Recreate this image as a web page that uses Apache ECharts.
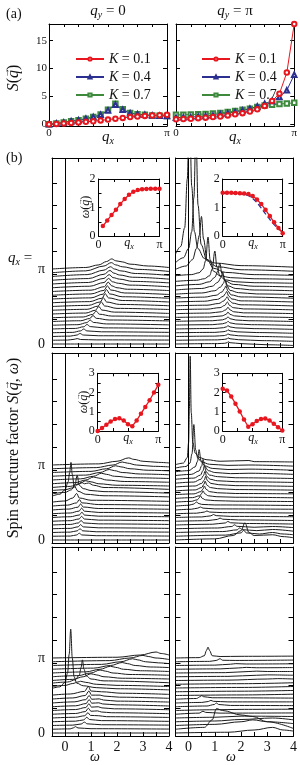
<!DOCTYPE html>
<html><head><meta charset="utf-8">
<script src="https://cdn.jsdelivr.net/npm/echarts@6/dist/echarts.min.js"></script>
<style>html,body{margin:0;padding:0;background:#fff}#c{width:300px;height:765px}</style>
</head><body><div id="c"></div>
<script>
const FONTF = '"Liberation Serif","DejaVu Serif",serif';
// ---------- (a) static structure factor, x in units of pi ----------
const qA = [0,0.0625,0.125,0.1875,0.25,0.3125,0.375,0.4375,0.5,0.5625,0.625,0.6875,0.75,0.8125,0.875,0.9375,1];
const sQy0_K1 = [0,0.08,0.16,0.25,0.35,0.45,0.55,0.7,0.85,1.0,1.15,1.3,1.4,1.5,1.6,1.65,1.7];
const sQy0_K4 = [0,0.15,0.35,0.55,0.75,1.0,1.3,1.7,2.5,3.5,2.6,2.0,1.8,1.7,1.6,1.55,1.5];
const sQy0_K7 = [0,0.15,0.35,0.55,0.75,1.0,1.3,1.75,2.6,3.7,2.7,2.05,1.8,1.7,1.6,1.55,1.5];
const sQyP_K1 = [0.9,0.95,1.0,1.1,1.2,1.3,1.4,1.6,1.8,2.0,2.3,2.7,3.3,4.2,5.5,9.3,18];
const sQyP_K4 = [1.2,1.25,1.3,1.4,1.5,1.6,1.8,2.0,2.2,2.5,2.8,3.2,3.7,4.2,4.9,6.1,8.9];
const sQyP_K7 = [1.7,1.72,1.75,1.8,1.85,1.95,2.05,2.2,2.4,2.6,2.8,3.1,3.4,3.5,3.65,3.75,3.85];
const kNames = ['K = 0.1','K = 0.4','K = 0.7'];
// ---------- insets: dispersion omega(q), q in units of pi ----------
const qIn = [0,0.0714,0.143,0.214,0.286,0.357,0.429,0.5,0.571,0.643,0.714,0.786,0.857,0.929,1];
const w1L = [null,0.35,0.54,0.74,0.92,1.12,1.3,1.45,1.55,1.61,1.64,1.65,1.66,1.66,1.66];
const w1R = [1.52,1.52,1.52,1.51,1.5,1.49,1.47,1.4,1.28,1.12,0.92,0.7,0.48,0.28,0.1];
const w1Rb = [1.5,1.5,1.5,1.49,1.48,1.46,1.42,1.32,1.17,0.98,0.78,0.58,0.4,0.25,0.14];
const w2L = [0,0.15,0.33,0.5,0.62,0.66,0.55,0.35,0.25,0.55,0.9,1.25,1.6,2.0,2.4];
const w2R = [2.2,2.1,1.8,1.42,1.02,0.6,0.22,0.35,0.52,0.63,0.65,0.55,0.38,0.2,0.02];
// ---------- waterfall spectra: each line i = [omega, height, omega, height, ...] (height in line-spacing units)
const wfR1L = [
 [-0.5,0, 4,0],
 [-0.5,0, 0.1,0.05, 0.35,0.25, 0.47,0.45, 0.6,0.2, 1.2,0.1, 4,0.05],
 [-0.5,0, 0.2,0.1, 0.46,0.4, 0.58,0.8, 0.7,0.4, 1.3,0.2, 4,0.1],
 [-0.5,0, 0.3,0.1, 0.6,0.5, 0.72,1.0, 0.84,0.5, 1.4,0.25, 4,0.1],
 [-0.5,0, 0.4,0.15, 0.72,0.6, 0.85,1.2, 0.97,0.65, 1.5,0.3, 4,0.1],
 [-0.5,0, 0.5,0.15, 0.84,0.7, 0.97,1.4, 1.09,0.75, 1.6,0.35, 4,0.1],
 [-0.5,0, 0.6,0.2, 0.95,0.8, 1.08,1.6, 1.2,0.85, 1.7,0.4, 4,0.15],
 [-0.5,0, 0.7,0.2, 1.07,0.9, 1.2,1.8, 1.32,0.95, 1.8,0.45, 4,0.15],
 [-0.5,0, 0.8,0.25, 1.17,1.0, 1.3,2.0, 1.42,1.05, 1.9,0.5, 4,0.15],
 [-0.5,0, 0.85,0.25, 1.27,1.1, 1.4,2.2, 1.52,1.15, 2.0,0.5, 4,0.2],
 [-0.5,0, 0.9,0.3, 1.35,1.2, 1.48,2.3, 1.6,1.2, 2.1,0.55, 4,0.2],
 [-0.5,0, 0.95,0.3, 1.42,1.2, 1.55,2.4, 1.67,1.3, 2.2,0.6, 4,0.2],
 [-0.5,0, 1.0,0.3, 1.47,1.3, 1.6,2.5, 1.72,1.35, 2.2,0.6, 4,0.2],
 [-0.5,0, 1.0,0.35, 1.5,1.3, 1.63,2.5, 1.76,1.4, 2.3,0.6, 4,0.2],
 [-0.5,0, 1.0,0.35, 1.52,1.3, 1.66,2.5, 1.8,1.5, 2.0,1.0, 2.4,0.6, 4,0.25],
 [-0.5,0, 0.95,0.4, 1.5,1.4, 1.68,2.5, 1.82,1.6, 2.05,1.2, 2.5,0.7, 4,0.25],
 [-0.5,0, 0.9,0.4, 1.5,1.5, 1.7,2.5, 1.85,1.7, 2.1,1.3, 2.6,0.7, 4,0.3],
 [-0.5,0, 0.9,0.45, 1.5,1.6, 1.73,2.6, 1.88,1.9, 2.1,1.4, 2.6,0.8, 4,0.3],
 [-0.5,0, 0.85,0.5, 1.5,1.7, 1.75,2.6, 1.9,2.0, 2.15,1.5, 2.7,0.8, 4,0.3],
 [-0.5,0, 0.8,0.5, 1.5,1.8, 1.78,2.7, 1.95,2.1, 2.2,1.6, 2.8,0.9, 4,0.35],
 [-0.5,0, 0.8,0.4, 1.3,1.1, 1.6,2.0, 1.8,2.7, 1.95,2.2, 2.2,1.9, 2.5,1.3, 3.2,0.8, 4,0.4]
];
const wfR1R = [
 [-0.5,0, 1.1,0.1, 1.38,0.2, 1.47,0.35, 1.5,0.6, 1.58,0.35, 2.0,0.1, 3.0,-0.2, 4,-0.4],
 [-0.5,0, 1.1,0.1, 1.38,0.25, 1.47,0.4, 1.5,0.65, 1.58,0.4, 1.9,0.15, 2.8,-0.1, 4,-0.3],
 [-0.5,0, 1.0,0.1, 1.36,0.25, 1.46,0.45, 1.5,0.7, 1.58,0.45, 1.9,0.2, 2.7,0, 4,-0.2],
 [-0.5,0, 1.0,0.1, 1.35,0.3, 1.46,0.5, 1.5,0.8, 1.58,0.5, 1.85,0.25, 2.6,0.05, 4,-0.15],
 [-0.5,0, 1.0,0.15, 1.33,0.35, 1.45,0.6, 1.5,0.9, 1.58,0.55, 1.8,0.3, 2.5,0.1, 4,-0.1],
 [-0.5,0.05, 0.9,0.15, 1.3,0.4, 1.45,0.7, 1.5,1.05, 1.58,0.65, 1.8,0.35, 2.4,0.15, 4,-0.05],
 [-0.5,0.05, 0.9,0.2, 1.3,0.45, 1.44,0.8, 1.5,1.25, 1.58,0.75, 1.8,0.4, 2.3,0.2, 4,0],
 [-0.5,0.1, 0.8,0.2, 1.28,0.5, 1.43,0.9, 1.5,1.5, 1.58,0.9, 1.75,0.5, 2.2,0.25, 4,0.05],
 [-0.5,0.1, 0.8,0.25, 1.25,0.6, 1.42,1.1, 1.5,1.8, 1.58,1.1, 1.72,0.6, 2.1,0.3, 4,0.1],
 [-0.5,0.15, 0.7,0.3, 1.2,0.7, 1.38,1.3, 1.48,2.2, 1.56,1.3, 1.7,0.7, 2.1,0.35, 4,0.1],
 [-0.5,0.2, 0.7,0.35, 1.15,0.8, 1.35,1.5, 1.42,2.1, 1.47,2.6, 1.55,1.6, 1.68,0.9, 2.0,0.45, 4,0.15],
 [-0.5,0.2, 0.6,0.4, 1.1,0.9, 1.32,1.7, 1.4,2.4, 1.45,3.0, 1.53,1.8, 1.65,1.0, 2.0,0.5, 4,0.2],
 [-0.5,0.25, 0.6,0.5, 1.05,1.0, 1.28,1.9, 1.37,2.8, 1.42,3.5, 1.5,2.1, 1.62,1.1, 2.0,0.55, 4,0.2],
 [-0.5,0.3, 0.5,0.6, 1.0,1.2, 1.22,2.2, 1.33,3.2, 1.38,4.2, 1.46,2.5, 1.58,1.3, 1.9,0.7, 2.6,0.35, 4,0.2],
 [-0.5,0.4, 0.5,0.8, 0.9,1.4, 1.12,2.5, 1.24,3.8, 1.3,5.2, 1.38,3.0, 1.5,1.5, 1.8,0.8, 2.5,0.4, 4,0.2],
 [-0.5,0.5, 0.4,0.9, 0.8,1.6, 1.0,2.8, 1.12,4.5, 1.19,6.6, 1.27,3.8, 1.4,1.8, 1.7,0.9, 2.5,0.4, 4,0.2],
 [-0.5,0.7, 0.3,1.0, 0.6,1.4, 0.8,2.2, 0.9,4.0, 1.0,8.8, 1.08,4.5, 1.2,2.0, 1.4,1.1, 1.8,0.6, 2.5,0.35, 4,0.2],
 [-0.5,1.2, 0.1,1.5, 0.4,2.0, 0.55,3.0, 0.65,5.2, 0.74,11.5, 0.82,5.5, 0.95,2.4, 1.2,1.2, 1.6,0.7, 2.5,0.4, 4,0.25],
 [-0.5,1.9, -0.1,2.8, 0.15,4.5, 0.3,7.5, 0.41,11, 0.49,16, 0.57,10, 0.7,4.5, 0.95,2.2, 1.4,1.1, 2.5,0.5, 4,0.3],
 [-0.5,2.7, -0.2,4.0, 0.0,6.5, 0.12,11, 0.2,20, 0.28,38, 0.36,18, 0.48,7.5, 0.7,3.2, 1.1,1.6, 2,0.8, 4,0.4],
 [-0.5,4.0, -0.3,6.0, -0.15,11, -0.05,24, 0.03,45, 0.12,22, 0.22,10, 0.35,5.5, 0.6,2.8, 1.0,1.6, 2.0,0.9, 4,0.5]
];
const wfR2L = [
 [-0.5,0, 4,0],
 [-0.5,0, 0.2,0.05, 0.45,0.35, 0.55,0.8, 0.65,0.35, 1.2,0.15, 4,0.05],
 [-0.5,0, 0.2,0.1, 0.47,0.45, 0.58,1.0, 0.68,0.45, 1.2,0.2, 4,0.1],
 [-0.5,0, 0.2,0.1, 0.5,0.5, 0.6,1.1, 0.7,0.5, 1.3,0.25, 4,0.1],
 [-0.5,0, 0.2,0.15, 0.52,0.55, 0.62,1.2, 0.72,0.55, 1.3,0.3, 4,0.15],
 [-0.5,0, 0.2,0.15, 0.54,0.6, 0.64,1.3, 0.74,0.6, 1.3,0.3, 4,0.15],
 [-0.5,0, 0.2,0.2, 0.55,0.65, 0.65,1.4, 0.75,0.65, 1.3,0.35, 4,0.2],
 [-0.5,0, 0.2,0.2, 0.54,0.7, 0.64,1.5, 0.74,0.7, 1.3,0.35, 4,0.2],
 [-0.5,0, 0.15,0.25, 0.5,0.75, 0.6,1.6, 0.7,0.8, 1.3,0.4, 4,0.2],
 [-0.5,0.05, 0.1,0.3, 0.45,0.9, 0.55,1.8, 0.65,0.9, 1.3,0.45, 4,0.25],
 [-0.5,0.1, 0.0,0.4, 0.3,1.2, 0.45,2.4, 0.55,1.2, 1.0,0.6, 4,0.3],
 [-0.5,0.7, -0.2,1.2, 0.0,2.4, 0.12,4.5, 0.18,7, 0.23,9.7, 0.28,6.5, 0.35,3.5, 0.5,2.0, 0.8,1.2, 1.5,0.8, 4,0.5],
 [-0.5,0.3, 0.0,0.7, 0.25,1.4, 0.38,2.8, 0.47,5.2, 0.55,2.6, 0.7,1.7, 1.0,1.2, 1.5,0.9, 4,0.5],
 [-0.5,0.2, 0.0,0.4, 0.3,0.9, 0.5,1.8, 0.62,2.4, 0.75,2.0, 0.9,2.2, 1.1,1.6, 1.5,1.0, 4,0.5],
 [-0.5,0, 0.2,0.3, 0.55,1.0, 0.8,1.8, 1.0,1.5, 1.3,1.0, 2.0,0.6, 4,0.4],
 [-0.5,0, 0.4,0.3, 0.8,1.0, 1.1,1.8, 1.3,1.5, 1.6,1.0, 2.3,0.6, 4,0.4],
 [-0.5,0, 0.6,0.3, 1.1,1.0, 1.4,1.8, 1.6,1.5, 1.9,1.0, 2.6,0.6, 4,0.4],
 [-0.5,0, 0.8,0.3, 1.35,1.0, 1.7,1.8, 1.9,1.5, 2.2,1.0, 2.9,0.6, 4,0.4],
 [-0.5,0, 1.0,0.3, 1.6,1.0, 1.95,1.8, 2.15,1.5, 2.5,1.0, 3.2,0.6, 4,0.45],
 [-0.5,0, 1.2,0.3, 1.85,1.0, 2.2,1.8, 2.4,1.5, 2.75,1.0, 3.4,0.65, 4,0.5],
 [-0.5,0, 1.3,0.3, 2.0,1.0, 2.45,1.9, 2.65,1.5, 3.0,1.0, 3.6,0.7, 4,0.55]
];
const wfR2R = [
 [-0.5,0, 1.0,0.3, 1.7,1.2, 2.0,2.5, 2.15,4.6, 2.3,2.0, 2.5,1.2, 3.2,1.4, 3.6,0.9, 4,0.6],
 [-0.5,0, 1.4,0.3, 2.0,0.9, 2.1,1.6, 2.2,0.9, 2.7,0.6, 3.2,1.0, 3.6,0.6, 4,0.4],
 [-0.5,0, 1.3,0.25, 1.85,0.7, 1.95,1.25, 2.05,0.75, 2.6,0.5, 3.2,0.8, 4,0.35],
 [-0.5,0, 1.1,0.2, 1.65,0.6, 1.75,1.05, 1.85,0.65, 2.5,0.4, 3.2,0.6, 4,0.3],
 [-0.5,0, 0.9,0.2, 1.4,0.55, 1.5,0.95, 1.6,0.6, 2.2,0.4, 4,0.25],
 [-0.5,0, 0.7,0.15, 1.1,0.5, 1.2,0.85, 1.3,0.55, 1.9,0.35, 4,0.2],
 [-0.5,0, 0.5,0.15, 0.85,0.45, 0.95,0.8, 1.05,0.5, 1.6,0.3, 4,0.2],
 [-0.5,0, 0.3,0.15, 0.6,0.45, 0.7,0.75, 0.8,0.45, 1.3,0.3, 4,0.2],
 [-0.5,0, 0.1,0.2, 0.35,0.5, 0.45,0.8, 0.55,0.5, 1.0,0.3, 4,0.2],
 [-0.5,0.05, 0.0,0.25, 0.2,0.6, 0.26,0.9, 0.3,1.2, 0.36,0.8, 0.5,0.5, 1.0,0.35, 4,0.2],
 [-0.5,0.1, 0.1,0.3, 0.33,0.7, 0.4,1.2, 0.45,1.8, 0.52,1.1, 0.65,0.7, 1.0,0.5, 1.8,0.35, 4,0.25],
 [-0.5,0.1, 0.15,0.3, 0.42,0.8, 0.5,1.4, 0.55,2.1, 0.62,1.3, 0.75,0.8, 1.05,0.55, 1.8,0.4, 4,0.25],
 [-0.5,0.1, 0.2,0.3, 0.47,0.9, 0.55,1.6, 0.6,2.4, 0.67,1.5, 0.8,0.9, 1.1,0.6, 1.8,0.4, 4,0.3],
 [-0.5,0.1, 0.25,0.35, 0.5,1.0, 0.58,1.8, 0.63,2.7, 0.7,1.6, 0.83,1.0, 1.1,0.7, 1.8,0.45, 4,0.3],
 [-0.5,0.15, 0.25,0.4, 0.5,1.1, 0.6,2.0, 0.65,3.0, 0.72,1.8, 0.85,1.1, 1.15,0.75, 1.8,0.5, 4,0.3],
 [-0.5,0.15, 0.2,0.45, 0.47,1.2, 0.57,2.2, 0.62,3.3, 0.69,2.0, 0.82,1.2, 1.1,0.8, 1.8,0.55, 4,0.35],
 [-0.5,0.2, 0.2,0.5, 0.45,1.3, 0.55,2.5, 0.6,3.8, 0.67,2.2, 0.8,1.3, 1.1,0.9, 1.8,0.6, 4,0.4],
 [-0.5,0.2, 0.1,0.5, 0.4,1.4, 0.5,2.8, 0.55,4.5, 0.62,2.6, 0.75,1.5, 1.0,1.0, 1.6,0.7, 2.3,0.8, 4,0.5],
 [-0.5,0.2, 0.0,0.5, 0.25,1.5, 0.34,3, 0.4,6.1, 0.47,3.2, 0.6,1.8, 0.9,1.1, 1.5,0.8, 2.3,0.9, 4,0.6],
 [-0.5,0.2, -0.1,0.6, 0.05,1.5, 0.13,4, 0.2,11.8, 0.27,5, 0.35,2.8, 0.5,1.8, 0.8,1.2, 1.5,0.9, 2.3,1.0, 4,0.7],
 [-0.5,0.1, -0.2,0.5, -0.05,2.0, 0.0,6, 0.03,15, 0.06,29, 0.1,14, 0.16,6, 0.25,3.2, 0.4,2.0, 0.7,1.4, 1.2,1.0, 2.3,1.2, 2.5,0.9, 4,0.8]
];
const wfR3L = [
 [-0.5,0, 4,0],
 [-0.5,0, 0.2,0.1, 0.33,0.4, 0.4,0.7, 0.5,0.35, 1.0,0.15, 4,0.05],
 [-0.5,0, 0.3,0.1, 0.62,0.4, 0.75,0.9, 0.85,0.45, 1.4,0.2, 4,0.1],
 [-0.5,0, 0.4,0.15, 0.72,0.5, 0.84,1.2, 0.94,0.6, 1.4,0.3, 4,0.1],
 [-0.5,0, 0.4,0.2, 0.76,0.6, 0.88,1.4, 0.98,0.7, 1.3,0.6, 1.6,0.35, 4,0.15],
 [-0.5,0, 0.4,0.2, 0.78,0.7, 0.9,1.6, 1.0,0.8, 1.25,0.9, 1.4,0.6, 1.8,0.4, 4,0.15],
 [-0.5,0, 0.4,0.25, 0.8,0.8, 0.92,1.8, 1.02,0.9, 1.28,1.0, 1.42,0.7, 1.9,0.45, 4,0.2],
 [-0.5,0, 0.4,0.25, 0.81,0.85, 0.93,1.9, 1.03,0.95, 1.3,1.05, 1.45,0.75, 2.0,0.5, 4,0.2],
 [-0.5,0, 0.35,0.3, 0.8,0.9, 0.93,2.0, 1.03,1.0, 1.32,1.1, 1.48,0.8, 2.0,0.5, 4,0.25],
 [-0.5,0.05, 0.3,0.35, 0.78,1.0, 0.92,2.2, 1.02,1.1, 1.35,1.1, 1.5,0.85, 2.1,0.55, 4,0.25],
 [-0.5,0.1, 0.2,0.4, 0.75,1.1, 0.9,2.4, 1.0,1.2, 1.4,1.0, 2.2,0.6, 4,0.3],
 [-0.5,0.9, -0.2,1.3, 0.0,2.5, 0.1,5, 0.16,10, 0.22,16.7, 0.28,9, 0.35,4, 0.45,2.3, 0.7,1.6, 1.2,1.1, 2.0,0.8, 4,0.5],
 [-0.5,0.4, 0.0,0.7, 0.3,1.2, 0.5,1.6, 0.6,1.8, 0.8,1.5, 1.2,1.0, 2,0.7, 4,0.4],
 [-0.5,0.3, 0.1,0.6, 0.4,1.2, 0.55,2.5, 0.62,4.5, 0.67,6.5, 0.73,4, 0.82,2.2, 1.0,1.4, 1.5,0.9, 4,0.4],
 [-0.5,0, 0.3,0.3, 0.7,1.0, 1.0,1.8, 1.2,1.5, 1.5,1.0, 2.2,0.6, 4,0.4],
 [-0.5,0, 0.5,0.3, 1.0,1.0, 1.35,1.8, 1.55,1.5, 1.85,1.0, 2.5,0.6, 4,0.4],
 [-0.5,0, 0.8,0.3, 1.35,1.0, 1.75,1.8, 1.95,1.5, 2.25,1.0, 2.9,0.6, 4,0.4],
 [-0.5,0, 1.1,0.3, 1.75,1.0, 2.2,1.8, 2.4,1.5, 2.7,1.0, 3.3,0.6, 4,0.45],
 [-0.5,0, 1.4,0.3, 2.15,1.0, 2.6,1.8, 2.8,1.5, 3.1,1.0, 3.6,0.7, 4,0.5],
 [-0.5,0, 1.7,0.3, 2.5,1.0, 3.0,1.7, 3.2,1.4, 3.5,1.0, 4,0.6],
 [-0.5,0, 2.0,0.2, 2.9,0.8, 3.5,1.6, 3.7,1.2, 4,0.8]
];
const wfR3R = [
 [-0.5,0, 1.5,0.2, 2.5,0.8, 3.2,1.5, 3.6,0.8, 4,0.5],
 [-0.5,0, 0.6,0.5, 0.9,2.5, 1.06,5.5, 1.3,5.0, 2.0,3.8, 2.45,3.4, 3.0,2.0, 4,0.2],
 [-0.5,0, 1.0,0.3, 2.0,1.0, 2.45,1.5, 3.0,1.0, 4,0.5],
 [-0.5,0, 1.0,0.2, 2.0,0.6, 3.2,1.0, 4,0.5],
 [-0.5,0, 1.0,0.2, 2.0,0.5, 4,0.4],
 [-0.5,0, 0.4,0.3, 0.55,0.8, 0.65,0.5, 1.2,0.3, 4,0.35],
 [-0.5,0, 1.0,0.2, 2.0,0.3, 4,0.35],
 [-0.5,0, 0.7,0.2, 0.98,0.6, 1.06,1.0, 1.15,0.6, 1.6,0.35, 4,0.3],
 [-0.5,0, 0.5,0.15, 0.75,0.4, 0.85,0.7, 0.95,0.45, 1.5,0.3, 4,0.3],
 [-0.5,0, 0.3,0.2, 0.45,0.7, 0.5,1.0, 0.56,0.7, 0.9,0.4, 4,0.3],
 [-0.5,0, 2,0.15, 4,0.35],
 [-0.5,0, 2,0.15, 4,0.35],
 [-0.5,0, 2,0.15, 4,0.4],
 [-0.5,0, 2,0.15, 4,0.4],
 [-0.5,0, 1.5,0.1, 3.0,0.4, 3.4,0.5, 4,0.4],
 [-0.5,0, 1.5,0.1, 2.6,0.4, 3.0,0.5, 4,0.4],
 [-0.5,0, 1.4,0.1, 2.3,0.4, 2.6,0.5, 3.0,0.4, 4,0.4],
 [-0.5,0, 1.2,0.1, 1.9,0.35, 2.2,0.5, 2.6,0.4, 4,0.45],
 [-0.5,0, 1.0,0.1, 1.6,0.35, 1.8,0.5, 2.2,0.4, 4,0.45],
 [-0.5,0, 0.8,0.1, 1.05,0.35, 1.2,0.8, 1.3,0.4, 1.8,0.35, 4,0.45],
 [-0.5,0, 0.4,0.1, 0.6,0.6, 0.68,2.0, 0.74,2.9, 0.8,2.0, 0.9,0.6, 1.2,0.4, 2,0.45, 4,0.5]
];
const wfTickLabels = ['0','π'];
const omegaLabels = [0,1,2,3,4];

// ---------------- layout ----------------
const SP = 3.75; // px per line spacing
const grids = [
 {left:49, top:24, width:118, height:102},   //0 a-left
 {left:176, top:24, width:119, height:102},  //1 a-right
 {left:52, top:158, width:117, height:189},  //2
 {left:175.5, top:158, width:118, height:189},//3
 {left:52, top:353, width:117, height:190},  //4
 {left:175.5, top:353, width:118, height:190},//5
 {left:52, top:547, width:117, height:189},  //6
 {left:175.5, top:547, width:118, height:189},//7
 {left:98.5, top:179, width:61, height:57},  //8 inset
 {left:222.7, top:179, width:60, height:57}, //9
 {left:97.7, top:373.3, width:60.6, height:57.7}, //10
 {left:222.7, top:373.3, width:59.6, height:57.7} //11
];
const xAxes = [], yAxes = [], series = [];
const black = {color:'#000', width:1};
function mkAxes(g, o) {
  const base = {gridIndex:g, type:'value', splitLine:{show:false}, axisLine:{show:true, onZero:false, lineStyle:black}};
  const lab = (vals, fmt, size, margin) => vals ? {show:true, customValues:vals, formatter:fmt, fontFamily:FONTF, fontSize:size, color:'#111', margin:margin} : {show:false};
  const xt = {inside:true, length:o.xtl, lineStyle:black};
  if (o.xTicks) xt.customValues = o.xTicks;
  const yt = {inside:true, length:o.ytl, lineStyle:black};
  if (o.yTicks) yt.customValues = o.yTicks;
  const xb = Object.assign({}, base, {position:'bottom', min:o.xMin, max:o.xMax, axisTick:xt, axisLabel:lab(o.xLab, o.xFmt, o.xSize, o.xMargin)});
  if (o.xInt) xb.interval = o.xInt;
  const xtp = Object.assign({}, base, {position:'top', min:o.xMin, max:o.xMax, axisTick:xt, axisLabel:{show:false}});
  if (o.xInt) xtp.interval = o.xInt;
  const yl = Object.assign({}, base, {position:'left', min:o.yMin, max:o.yMax, axisTick:yt, axisLabel:lab(o.yLab, o.yFmt, o.ySize, o.yMargin)});
  if (o.yInt) yl.interval = o.yInt;
  const yr = Object.assign({}, base, {position:'right', min:o.yMin, max:o.yMax, axisTick:yt, axisLabel:{show:false}});
  if (o.yInt) yr.interval = o.yInt;
  xAxes.push(xb, xtp); yAxes.push(yl, yr);
}
const piFmt = v => v === 0 ? '0' : 'π';
// (a)
[0,1].forEach(g => mkAxes(g, {xMin:0, xMax:1, xInt:0.125, xtl:3, xLab:[0,1], xFmt:piFmt, xSize:11, xMargin:2,
  yMin:-0.3, yMax:18, yTicks:[0,5,10,15], ytl:4, yLab: g===0 ? [0,5,10,15] : null, yFmt:v=>String(v), ySize:11, yMargin:2}));
// waterfalls
const wfs = [wfR1L, wfR1R, wfR2L, wfR2R, wfR3L, wfR3R];
wfs.forEach((lines, k) => {
  const g = 2 + k, gr = grids[g];
  const yMin = -0.8, yMax = yMin + gr.height / SP;
  const row = Math.floor(k / 2), leftCol = k % 2 === 0;
  mkAxes(g, {xMin:-0.5, xMax:4, xInt:0.5, xtl:4, xLab: row === 2 ? omegaLabels : null, xFmt:v=>String(v), xSize:14, xMargin:4,
    yMin, yMax, yTicks:[6.6,12.7,18.7,24.8,30.9,36.9,43.0], ytl:5,
    yLab: leftCol ? [0, lines.length - 1] : null, yFmt: v => v === 0 ? wfTickLabels[0] : wfTickLabels[1], ySize:14, yMargin:7});
  lines.forEach((ln, i) => {
    const d = [];
    for (let j = 0; j < ln.length; j += 2) d.push([ln[j], i + ln[j + 1]]);
    const s = {type:'line', xAxisIndex:2*g, yAxisIndex:2*g, data:d, smooth:0.35, smoothMonotone:'x', symbol:'none', showSymbol:false,
      lineStyle:{color:'#1b1b1b', width:1}, silent:true, animation:false, z:2};
    if (i === 0) s.markLine = {silent:true, symbol:'none', label:{show:false}, animation:false, lineStyle:{color:'#000', width:1, type:'solid'}, data:[{xAxis:0}]};
    series.push(s);
  });
});
// insets
[8,9,10,11].forEach(g => {
  const big = g >= 10;
  mkAxes(g, {xMin:0, xMax:1, xInt:0.25, xtl:3, xLab:[0,1], xFmt:piFmt, xSize:12, xMargin:3,
    yMin:0, yMax: big ? 3 : 2, yInt:0.5, ytl:3, yLab: big ? [0,1,2,3] : [0,1,2], yFmt:v=>String(v), ySize:12, yMargin:3});
});
const pairs = (xs, ys) => xs.map((x, i) => [x, ys[i]]).filter(p => p[1] !== null);
const RED = '#e8161e', BLUE = '#2b2f8f', GREEN = '#3d8a3d';
function inset(g, ys, color, dashed, sym) {
  series.push({type:'line', xAxisIndex:2*g, yAxisIndex:2*g, data:pairs(qIn, ys), symbol: sym || 'circle', symbolSize:4.5, showSymbol: !!sym || !dashed,
    lineStyle:{color, width:1.3, type: dashed ? 'dashed' : 'solid'}, itemStyle:{color}, silent:true, animation:false, z:5});
}
inset(8, w1L, RED, false);
inset(9, w1Rb, BLUE, true, 'none');
inset(9, w1R, RED, false);
inset(10, w2L, RED, false);
inset(11, w2R, RED, false);
// (a) series
const aSer = (g, ys, name, color, sym) => series.push({type:'line', name, xAxisIndex:2*g, yAxisIndex:2*g, data:pairs(qA, ys), symbol:sym, symbolSize:4.5,
  lineStyle:{color, width:1}, itemStyle:{color, borderColor:color, borderWidth:1}, silent:true, animation:false, z:4});
aSer(0, sQy0_K7, kNames[2], GREEN, 'emptyRect');
aSer(0, sQy0_K4, kNames[1], BLUE, 'emptyTriangle');
aSer(0, sQy0_K1, kNames[0], RED, 'emptyCircle');
aSer(1, sQyP_K7, kNames[2], GREEN, 'emptyRect');
aSer(1, sQyP_K4, kNames[1], BLUE, 'emptyTriangle');
aSer(1, sQyP_K1, kNames[0], RED, 'emptyCircle');

// ---------------- text helpers ----------------
const ctx = document.createElement('canvas').getContext('2d');
const fnt = (size, it) => (it ? 'italic ' : '') + size + 'px ' + FONTF;
function tw(t, size, it) { ctx.font = fnt(size, it); return ctx.measureText(t).width; }
// segs: [text, size, italic, dy, arrow]
function txt(segs, x, y, align, rot) {
  let w = 0; const items = [];
  segs.forEach(s => { const ww = tw(s[0], s[1], s[2]); items.push({t:s[0], size:s[1], it:s[2], dy:s[3] || 0, arrow:s[4], x:w, w:ww}); w += ww; });
  const x0 = align === 'left' ? 0 : align === 'right' ? -w : -w / 2;
  const ch = [];
  items.forEach(it => {
    ch.push({type:'text', x:x0 + it.x, y:it.dy, style:{text:it.t, font:fnt(it.size, it.it), fill:'#111', align:'left', textAlign:'left', verticalAlign:'middle', textVerticalAlign:'middle'}});
    if (it.arrow) ch.push({type:'text', x:x0 + it.x + it.w / 2 + it.size * 0.08, y:it.dy - it.size * 0.5, style:{text:'→', font:fnt(Math.round(it.size * 0.6), false), fill:'#111', align:'center', textAlign:'center', verticalAlign:'middle', textVerticalAlign:'middle'}});
  });
  return {type:'group', x, y, rotation: rot || 0, silent:true, children:ch};
}
const qx = (s) => [['q', s, true], ['x', Math.round(s * 0.68), true, s * 0.3]];
const graphic = [
  txt([['(a)', 14, false]], 6, 14, 'left'),
  txt([['q',15,true],['y',10,true,4],[' = 0',15,false]], 108, 11),
  txt([['q',15,true],['y',10,true,4],[' = π',15,false]], 235, 11),
  txt([['S',16,true],['(',16,false],['q',16,true,0,true],[')',16,false]], 14, 78, 'center', Math.PI/2),
  txt(qx(15), 108, 137),
  txt(qx(15), 235, 137),
  txt([['(b)', 14, false]], 6, 158, 'left'),
  txt([...qx(15), [' =', 15, false]], 8, 258, 'left'),
  txt([['Spin structure factor ',16,false],['S',16,true],['(',16,false],['q',16,true,0,true],[', ',16,false],['ω',16,true],[')',16,false]], 14, 448, 'center', Math.PI/2),
  txt([['ω',12,true],['(',12,false],['q',12,true,0,true],[')',12,false]], 86, 207, 'center', Math.PI/2),
  txt([['ω',12,true],['(',12,false],['q',12,true,0,true],[')',12,false]], 84, 402, 'center', Math.PI/2),
  txt(qx(12), 129, 243),
  txt(qx(12), 253, 243),
  txt(qx(12), 128, 438),
  txt(qx(12), 253, 438),
  txt([['ω',14,true]], 95, 757),
  txt([['ω',14,true]], 231, 757)
];
const legendBase = {orient:'vertical', top:47, itemWidth:28, itemHeight:4, itemGap:4, selectedMode:false, data:kNames,
  formatter: n => '{k|K}' + n.slice(1),
  textStyle:{fontFamily:FONTF, fontSize:14, color:'#111', rich:{k:{fontStyle:'italic', fontFamily:FONTF, fontSize:14, color:'#111'}}}};
const chart = echarts.init(document.getElementById('c'), null, {renderer:'canvas'});
chart.setOption({
  animation:false, backgroundColor:'#fff',
  grid: grids.map(g => Object.assign({show:false, containLabel:false}, g)),
  xAxis:xAxes, yAxis:yAxes, series,
  legend:[Object.assign({left:70}, legendBase), Object.assign({left:196}, legendBase)],
  graphic
});
</script></body></html>
